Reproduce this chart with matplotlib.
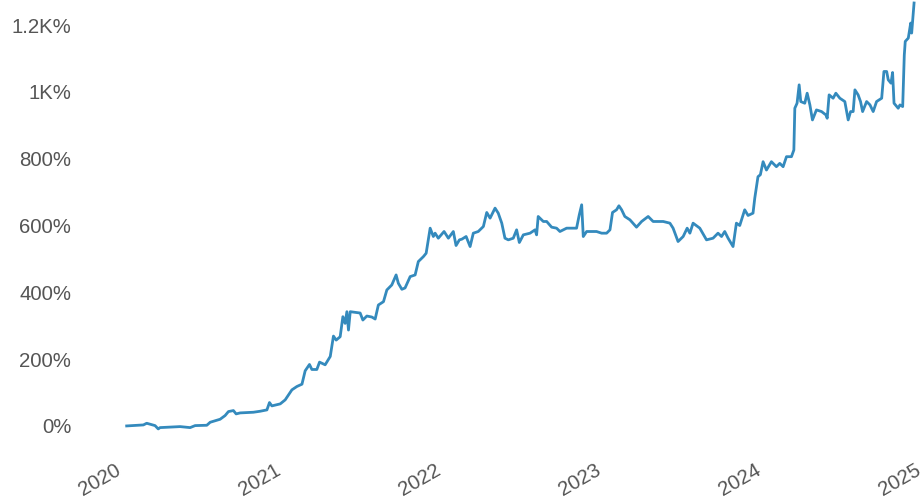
import numpy as np
import pandas as pd
import matplotlib
matplotlib.use("Agg")
from matplotlib import pyplot as plt
from matplotlib.ticker import FuncFormatter

# time given as decimal years, values are cumulative return in %
years = [2020.017, 2020.121, 2020.142, 2020.194, 2020.214, 2020.225, 2020.350, 2020.413,
         2020.444, 2020.517, 2020.538, 2020.600, 2020.631, 2020.652, 2020.683, 2020.700,
         2020.725, 2020.808, 2020.850, 2020.892, 2020.908, 2020.923, 2020.975, 2021.006,
         2021.027, 2021.048, 2021.079, 2021.111, 2021.131, 2021.158, 2021.173, 2021.204,
         2021.221, 2021.256, 2021.288, 2021.308, 2021.325, 2021.350, 2021.367, 2021.381,
         2021.392, 2021.402, 2021.413, 2021.475, 2021.492, 2021.517, 2021.548, 2021.569,
         2021.589, 2021.621, 2021.642, 2021.673, 2021.700, 2021.714, 2021.736, 2021.756,
         2021.788, 2021.819, 2021.839, 2021.871, 2021.888, 2021.913, 2021.933, 2021.944,
         2021.964, 2022.000, 2022.027, 2022.058, 2022.075, 2022.096, 2022.111, 2022.138,
         2022.163, 2022.183, 2022.214, 2022.246, 2022.267, 2022.288, 2022.319, 2022.339,
         2022.361, 2022.381, 2022.402, 2022.433, 2022.454, 2022.471, 2022.496, 2022.538,
         2022.569, 2022.579, 2022.589, 2022.621, 2022.642, 2022.673, 2022.704, 2022.725,
         2022.767, 2022.829, 2022.846, 2022.861, 2022.871, 2022.892, 2022.954, 2022.986,
         2023.017, 2023.038, 2023.054, 2023.079, 2023.094, 2023.111, 2023.131, 2023.163,
         2023.204, 2023.236, 2023.277, 2023.308, 2023.339, 2023.371, 2023.413, 2023.433,
         2023.464, 2023.496, 2023.521, 2023.538, 2023.558, 2023.600, 2023.642, 2023.683,
         2023.714, 2023.736, 2023.756, 2023.777, 2023.808, 2023.829, 2023.850, 2023.881,
         2023.902, 2023.933, 2023.944, 2023.964, 2023.979, 2023.996, 2024.017, 2024.048,
         2024.079, 2024.100, 2024.121, 2024.142, 2024.173, 2024.188, 2024.194, 2024.208,
         2024.221, 2024.231, 2024.256, 2024.271, 2024.288, 2024.304, 2024.329, 2024.361,
         2024.388, 2024.396, 2024.408, 2024.433, 2024.450, 2024.475, 2024.506, 2024.527,
         2024.542, 2024.558, 2024.569, 2024.589, 2024.604, 2024.617, 2024.642, 2024.663,
         2024.683, 2024.704, 2024.736, 2024.750, 2024.767, 2024.777, 2024.794, 2024.804,
         2024.813, 2024.839, 2024.850, 2024.867, 2024.877, 2024.883, 2024.902, 2024.917,
         2024.923, 2024.938]

returns = [0, 3, 8, 1, -9, -5, -2, -5,
           1, 2, 11, 20, 31, 43, 46, 36,
           39, 41, 44, 48, 70, 60, 66, 78,
           93, 108, 118, 125, 165, 184, 169, 169,
           191, 183, 208, 269, 257, 267, 327, 307,
           342, 287, 342, 338, 317, 329, 326, 320,
           362, 372, 407, 422, 452, 427, 409, 413,
           447, 452, 492, 507, 517, 592, 567, 577,
           562, 582, 562, 582, 540, 557, 559, 567,
           537, 577, 582, 597, 639, 622, 652, 637,
           607, 562, 557, 562, 587, 549, 572, 577,
           587, 572, 627, 612, 612, 595, 592, 582,
           592, 592, 632, 662, 567, 582, 582, 577,
           577, 587, 639, 647, 659, 647, 627, 617,
           595, 612, 627, 612, 612, 612, 607, 592,
           552, 567, 592, 577, 607, 592, 557, 562,
           577, 567, 582, 562, 537, 607, 600, 647,
           630, 637, 682, 746, 752, 791, 766, 791,
           776, 786, 776, 806, 806, 826, 951, 966,
           1021, 971, 966, 996, 961, 916, 946, 941,
           931, 921, 991, 981, 996, 981, 971, 916,
           941, 941, 1006, 991, 971, 941, 971, 961,
           941, 971, 981, 1061, 1061, 1036, 1026, 1058,
           966, 951, 961, 956, 1110, 1151, 1161, 1206,
           1176, 1266]

yticks = [0, 200, 400, 600, 800, 1000, 1200]
xtick_years = [2020, 2021, 2022, 2023, 2024, 2025]


def to_date(y):
    yi = int(np.floor(y))
    start = pd.Timestamp(year=yi, month=1, day=1)
    end = pd.Timestamp(year=yi + 1, month=1, day=1)
    return start + (end - start) * (y - yi)


def pct(v, pos):
    if abs(v) >= 1000:
        s = ('%.1f' % (v / 1000)).rstrip('0').rstrip('.')
        return s + 'K%'
    return '%d%%' % v


plt.rcParams['font.family'] = ['Liberation Sans', 'DejaVu Sans']

dates = [to_date(y) for y in years]

fig = plt.figure(figsize=(9.24, 5.03), dpi=100)
ax = fig.add_axes([76 / 924, 47 / 503, 848 / 924, 456 / 503])
ax.plot(dates, returns, color='#348ABD', lw=2.0)

ax.set_ylim(-90, 1275)
ax.set_xlim(to_date(2019.70), to_date(2025.0))
ax.set_yticks(yticks)
ax.yaxis.set_major_formatter(FuncFormatter(pct))
ax.set_xticks([to_date(y) for y in xtick_years])
ax.set_xticklabels([str(y) for y in xtick_years], rotation=30, ha='right')
ax.tick_params(length=0, labelsize=14.7, labelcolor='#555555')
for s in ax.spines.values():
    s.set_visible(False)

fig.savefig('out.png', dpi=100)
